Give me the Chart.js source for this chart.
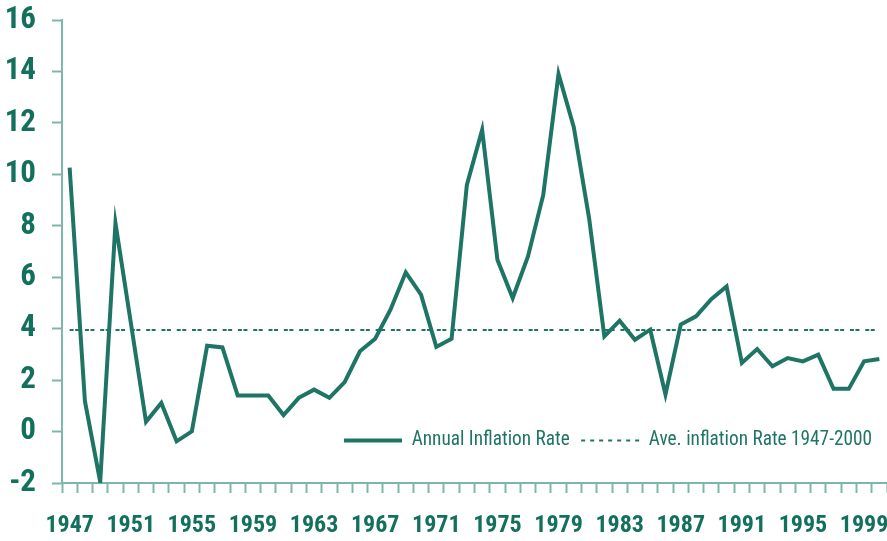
<!DOCTYPE html>
<html>
<head>
<meta charset="utf-8">
<script src="https://cdn.jsdelivr.net/npm/chart.js@4/dist/chart.umd.min.js"></script>
<style>
  html, body { margin: 0; padding: 0; background: #ffffff; }
  #wrap { width: 887px; height: 541px; }
</style>
</head>
<body>
<div id="wrap"><canvas id="c" width="887" height="541"></canvas></div>
<script>
const years = [1947,1948,1949,1950,1951,1952,1953,1954,1955,1956,1957,1958,1959,1960,1961,1962,1963,1964,1965,1966,1967,1968,1969,1970,1971,1972,1973,1974,1975,1976,1977,1978,1979,1980,1981,1982,1983,1984,1985,1986,1987,1988,1989,1990,1991,1992,1993,1994,1995,1996,1997,1998,1999,2000];
const annualInflation = [10.26,1.18,-1.95,8.10,4.25,0.38,1.11,-0.38,0.01,3.34,3.27,1.40,1.40,1.40,0.64,1.31,1.63,1.31,1.92,3.12,3.61,4.74,6.19,5.32,3.29,3.61,9.59,11.73,6.68,5.19,6.81,9.20,13.90,11.83,8.30,3.70,4.31,3.57,3.96,1.44,4.16,4.48,5.15,5.64,2.67,3.21,2.54,2.86,2.73,2.99,1.66,1.66,2.73,2.82];
const averageRate = 3.95;
const yTickValues = [-2,0,2,4,6,8,10,12,14,16];
const seriesNames = ['Annual Inflation Rate', 'Ave. inflation Rate 1947-2000'];

const lineColor = '#1f7565';
const textColor = '#13705d';
const axisColor = '#7db6ab';
const narrow = '"Roboto Condensed", "Liberation Sans Narrow", "DejaVu Sans Condensed", sans-serif';

const legendPlace = {
  id: 'legendPlace',
  afterLayout(chart) {
    const lg = chart.legend;
    if (!lg) return;
    lg.left = 332.6;
    lg.right = 1400;
    lg.top = 419.5;
    lg.bottom = 470;
  }
};

new Chart(document.getElementById('c'), {
  type: 'line',
  data: {
    labels: years,
    datasets: [
      {
        label: seriesNames[0],
        data: annualInflation,
        borderColor: lineColor,
        backgroundColor: lineColor,
        borderWidth: 4,
        pointRadius: 0,
        tension: 0,
        fill: false
      },
      {
        label: seriesNames[1],
        data: years.map(() => averageRate),
        borderColor: lineColor,
        backgroundColor: lineColor,
        borderWidth: 2,
        borderDash: [4, 1.5, 4, 5.8],
        pointRadius: 0,
        tension: 0,
        fill: false
      }
    ]
  },
  plugins: [legendPlace],
  options: {
    responsive: false,
    animation: false,
    events: [],
    layout: { padding: { top: 20, left: 0, right: 0, bottom: 0 } },
    plugins: {
      tooltip: { enabled: false },
      legend: {
        position: 'top',
        align: 'start',
        maxHeight: 0.01,
        labels: {
          usePointStyle: true,
          pointStyle: 'line',
          pointStyleWidth: 58,
          padding: 11.4,
          color: lineColor,
          font: { family: narrow, size: 19.3, weight: 'normal' },
          generateLabels(chart) {
            const items = Chart.defaults.plugins.legend.labels.generateLabels(chart);
            items.forEach((it, i) => {
              it.pointStyle = 'line';
              it.strokeStyle = lineColor;
              it.fillStyle = lineColor;
              it.fontColor = lineColor;
              it.lineWidth = i === 0 ? 4 : 2;
              it.lineDash = i === 0 ? [] : [4, 5];
            });
            return items;
          }
        }
      }
    },
    scales: {
      x: {
        type: 'category',
        offset: true,
        afterFit(s) { s.height = 58; s.paddingLeft = 0; s.paddingRight = 0; },
        grid: {
          offset: true,
          drawOnChartArea: false,
          drawTicks: true,
          tickLength: 10,
          tickWidth: 2,
          color: axisColor
        },
        border: { display: true, color: axisColor, width: 2 },
        ticks: {
          autoSkip: false,
          maxRotation: 0,
          minRotation: 0,
          padding: 19,
          color: textColor,
          font: { family: narrow, size: 24, weight: 'bold' },
          callback(value, index) {
            return index % 4 === 0 ? String(years[index]) : '';
          }
        }
      },
      y: {
        min: yTickValues[0],
        max: yTickValues[yTickValues.length - 1],
        afterFit(s) { s.width = 62; s.paddingTop = 0; s.paddingBottom = 0; },
        afterBuildTicks(s) { s.ticks = yTickValues.map(v => ({ value: v })); },
        grid: {
          drawOnChartArea: false,
          drawTicks: true,
          tickLength: 10,
          tickWidth: 2,
          color: axisColor
        },
        border: { display: true, color: axisColor, width: 2 },
        ticks: {
          padding: 16,
          color: textColor,
          font: { family: narrow, size: 31, weight: 'bold' },
          callback(value) { return String(value); }
        }
      }
    }
  }
});
</script>
</body>
</html>
